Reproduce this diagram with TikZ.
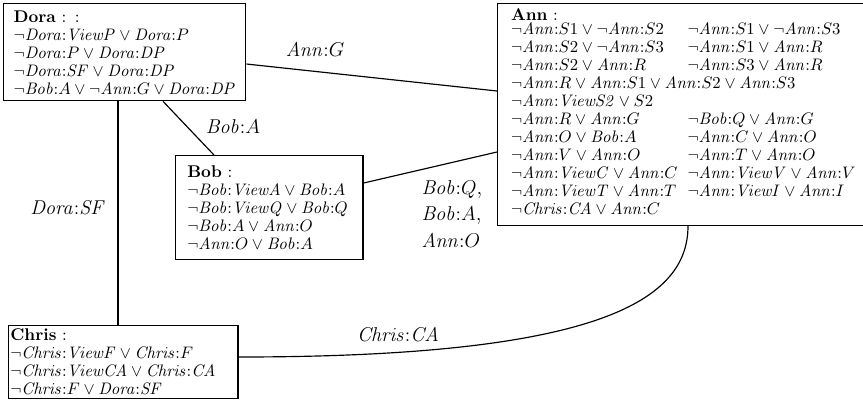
\documentclass[tikz,border=0pt]{standalone}
\begin{document}
\begin{tikzpicture}[x=0.6pt,y=-0.6pt,
 box/.style={draw,line width=0.8pt,anchor=north west,align=left,inner xsep=8pt,inner ysep=4pt,font=\fontsize{10.2}{10.8}\selectfont},
 lab/.style={font=\fontsize{12.5}{14}\selectfont},
 ed/.style={line width=0.7pt}]
\useasboundingbox (0,0) rectangle (863,409);
\node[box,text width=0.6*222pt,inner xsep=6pt] (dora) at (3,3) {\textbf{Dora} : :\\
$\neg \mathit{Dora}{:}\mathit{ViewP} \vee \mathit{Dora}{:}P$\\
$\neg \mathit{Dora}{:}P \vee \mathit{Dora}{:}\mathit{DP}$\\
$\neg \mathit{Dora}{:}\mathit{SF} \vee \mathit{Dora}{:}\mathit{DP}$\\
$\neg \mathit{Bob}{:}A \vee \neg \mathit{Ann}{:}G \vee \mathit{Dora}{:}\mathit{DP}$};
\node[box,text width=0.6*347pt,inner ysep=3pt] (ann) at (497,3) {\textbf{Ann} :\\
\begin{tabular}{@{}l@{\hspace{6pt}}l@{}}
$\neg \mathit{Ann}{:}S1 \vee \neg \mathit{Ann}{:}S2$ & $\neg \mathit{Ann}{:}S1 \vee \neg \mathit{Ann}{:}S3$\\
$\neg \mathit{Ann}{:}S2 \vee \neg \mathit{Ann}{:}S3$ & $\neg \mathit{Ann}{:}S1 \vee \mathit{Ann}{:}R$\\
$\neg \mathit{Ann}{:}S2 \vee \mathit{Ann}{:}R$ & $\neg \mathit{Ann}{:}S3 \vee \mathit{Ann}{:}R$\\
\multicolumn{2}{@{}l@{}}{$\neg \mathit{Ann}{:}R \vee \mathit{Ann}{:}S1 \vee \mathit{Ann}{:}S2 \vee \mathit{Ann}{:}S3$}\\
\multicolumn{2}{@{}l@{}}{$\neg \mathit{Ann}{:}\mathit{ViewS2} \vee S2$}\\
$\neg \mathit{Ann}{:}R \vee \mathit{Ann}{:}G$ & $\neg \mathit{Bob}{:}Q \vee \mathit{Ann}{:}G$\\
$\neg \mathit{Ann}{:}O \vee \mathit{Bob}{:}A$ & $\neg \mathit{Ann}{:}C \vee \mathit{Ann}{:}O$\\
$\neg \mathit{Ann}{:}V \vee \mathit{Ann}{:}O$ & $\neg \mathit{Ann}{:}T \vee \mathit{Ann}{:}O$\\
$\neg \mathit{Ann}{:}\mathit{ViewC} \vee \mathit{Ann}{:}C$ & $\neg \mathit{Ann}{:}\mathit{ViewV} \vee \mathit{Ann}{:}V$\\
$\neg \mathit{Ann}{:}\mathit{ViewT} \vee \mathit{Ann}{:}T$ & $\neg \mathit{Ann}{:}\mathit{ViewI} \vee \mathit{Ann}{:}I$\\
\multicolumn{2}{@{}l@{}}{$\neg \mathit{Chris}{:}\mathit{CA} \vee \mathit{Ann}{:}C$}
\end{tabular}};
\node[box,text width=0.6*164pt,inner ysep=6pt,inner xsep=7pt] (bob) at (175,155) {\textbf{Bob} :\\
$\neg \mathit{Bob}{:}\mathit{ViewA} \vee \mathit{Bob}{:}A$\\
$\neg \mathit{Bob}{:}\mathit{ViewQ} \vee \mathit{Bob}{:}Q$\\
$\neg \mathit{Bob}{:}A \vee \mathit{Ann}{:}O$\\
$\neg \mathit{Ann}{:}O \vee \mathit{Bob}{:}A$};
\node[box,inner xsep=1pt,inner ysep=2pt,text width=0.6*226pt] (chris) at (8,325) {\textbf{Chris} :\\
$\neg \mathit{Chris}{:}\mathit{ViewF} \vee \mathit{Chris}{:}F$\\
$\neg \mathit{Chris}{:}\mathit{ViewCA} \vee \mathit{Chris}{:}\mathit{CA}$\\
$\neg \mathit{Chris}{:}F \vee \mathit{Dora}{:}\mathit{SF}$};
\coordinate (da) at (dora.east |- 0,64);
\draw[ed] (da) -- (ann.west |- 0,91);
\draw[ed] (dora.south -| 163,0) -- (bob.north -| 214,0);
\draw[ed] (bob.east |- 0,183) -- (ann.west |- 0,152);
\draw[ed] (dora.south -| 118,0) -- (chris.north -| 118,0);
\draw[ed] (ann.south -| 688,0) .. controls (688,300) and (600,357) .. (chris.east |- 0,357);
\node[lab] (lg) at (315,50) {$\mathit{Ann}{:}G$};
\node[lab] (lba) at (233,127) {$\mathit{Bob}{:}A$};
\node[lab] (lsf) at (68,208) {$\mathit{Dora}{:}\mathit{SF}$};
\node[lab,align=left] (lbq) at (452,214) {$\mathit{Bob}{:}Q$,\\[2pt]$\mathit{Bob}{:}A$,\\[2pt]$\mathit{Ann}{:}O$};
\node[lab] (lca) at (398,335) {$\mathit{Chris}{:}\mathit{CA}$};
\end{tikzpicture}
\end{document}
